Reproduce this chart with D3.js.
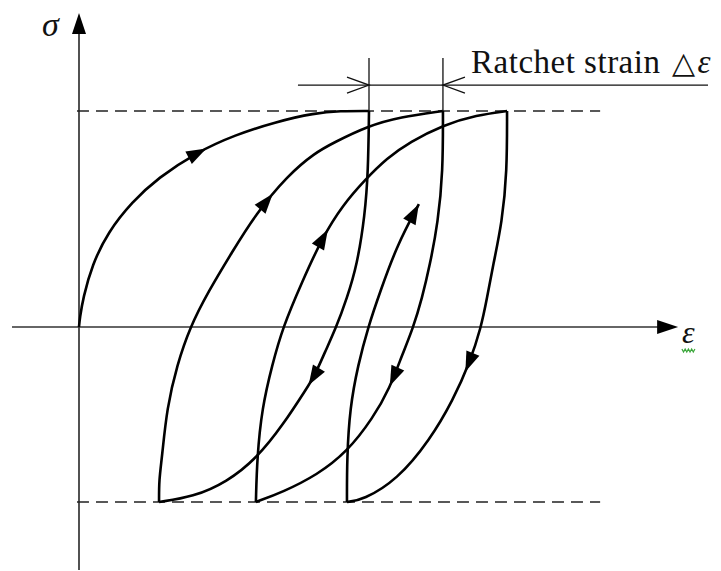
<!DOCTYPE html>
<html>
<head>
<meta charset="utf-8">
<script src="https://cdn.jsdelivr.net/npm/d3@7/dist/d3.min.js"></script>
<style>
  html, body { margin: 0; padding: 0; background: #fff; }
  svg { display: block; }
</style>
</head>
<body>
<svg id="chart" width="721" height="571"></svg>
<script>
// Normalised strain (first peak = 1) and stress (peak = 1) along each branch.
const load0 = [[0,0],[0.003,0.042],[0.014,0.134],[0.045,0.287],[0.100,0.440],[0.183,0.579],
  [0.272,0.690],[0.407,0.810],[0.538,0.889],[0.676,0.949],[0.814,0.991],[0.900,1.000],[1.000,1.000]];
const unload1 = [[1.000,1.000],[0.997,0.718],[0.986,0.519],[0.959,0.287],[0.924,0.134],
  [0.886,-0.005],[0.848,-0.116],[0.814,-0.222],[0.786,-0.282],[0.703,-0.454],[0.614,-0.606],
  [0.510,-0.718],[0.393,-0.787],[0.276,-0.810]];
const reload1 = [[0.276,-0.810],[0.276,-0.708],[0.286,-0.606],[0.303,-0.375],[0.338,-0.176],
  [0.383,0.000],[0.445,0.162],[0.528,0.347],[0.607,0.519],[0.721,0.704],[0.814,0.806],
  [0.876,0.852],[0.997,0.931],[1.107,0.972],[1.255,1.000]];
const unload2 = [[1.255,1.000],[1.255,0.718],[1.238,0.486],[1.210,0.287],[1.183,0.134],
  [1.152,-0.005],[1.114,-0.130],[1.072,-0.282],[1.014,-0.421],[0.924,-0.579],[0.821,-0.685],
  [0.703,-0.764],[0.610,-0.810]];
const reload2 = [[0.610,-0.810],[0.614,-0.606],[0.631,-0.375],[0.666,-0.176],[0.703,0.000],
  [0.769,0.208],[0.838,0.412],[0.910,0.565],[0.986,0.681],[1.062,0.782],[1.141,0.856],
  [1.255,0.935],[1.372,0.981],[1.476,1.000]];
const unload3 = [[1.476,1.000],[1.476,0.718],[1.459,0.486],[1.428,0.287],[1.407,0.134],
  [1.386,-0.005],[1.348,-0.162],[1.290,-0.338],[1.210,-0.523],[1.097,-0.708],[0.979,-0.801],
  [0.924,-0.810]];
const reload3 = [[0.924,-0.810],[0.924,-0.606],[0.934,-0.375],[0.962,-0.176],[0.997,0.000],
  [1.038,0.162],[1.097,0.380],[1.172,0.569]];

// Direction-arrow tip on each branch (same units, same order as the branches).
const arrowTips = [[0.438,0.829],[0.803,-0.278],[0.662,0.625],[1.066,-0.269],
  [0.859,0.449],[1.334,-0.208],[1.172,0.569]];

// Stress limits of the controlled cycle.
const stressLimits = [1.0, -0.81];
// Strain of the two peaks bracketing one cycle of ratchet strain.
const ratchetPeaks = [1.000, 1.255];

const axisLabelX = "ε";
const axisLabelY = "σ";
const ratchetWords = "Ratchet strain";
const ratchetDelta = "△";
const ratchetSymbol = "ε";

const branches = [load0, unload1, reload1, unload2, reload2, unload3, reload3];

const svg = d3.select("#chart");
const x = d3.scaleLinear().domain([0, 1]).range([79, 369]);
const y = d3.scaleLinear().domain([0, 1]).range([327, 111]);

const ink = "#111";
const axisInk = "#333";
const serif = "'Liberation Serif', 'Times New Roman', serif";

// Axes with arrowheads
const xAxisStart = -0.231, xAxisEnd = 2.066;
const yAxisStart = -1.125, yAxisEnd = 1.454;

svg.append("line")
  .attr("x1", x(xAxisStart)).attr("x2", x(xAxisEnd) - 10)
  .attr("y1", y(0)).attr("y2", y(0))
  .attr("stroke", axisInk).attr("stroke-width", 1.7);
svg.append("line")
  .attr("x1", x(0)).attr("x2", x(0))
  .attr("y1", y(yAxisStart)).attr("y2", y(yAxisEnd) + 10)
  .attr("stroke", axisInk).attr("stroke-width", 1.7);

function tri(tipX, tipY, dx, dy, len, half) {
  const bx = tipX - dx * len, by = tipY - dy * len;
  const px = -dy, py = dx;
  return `M${tipX},${tipY}L${bx + px * half},${by + py * half}L${bx - px * half},${by - py * half}Z`;
}
svg.append("path").attr("d", tri(x(xAxisEnd), y(0), 1, 0, 21, 7)).attr("fill", "#000");
svg.append("path").attr("d", tri(x(0), y(yAxisEnd), 0, -1, 21, 7)).attr("fill", "#000");

// Stress-limit guide lines
const guideStart = -0.007, guideEnd = 1.797;
svg.selectAll("line.guide").data(stressLimits).join("line")
  .attr("class", "guide")
  .attr("x1", x(guideStart)).attr("x2", x(guideEnd))
  .attr("y1", d => y(d)).attr("y2", d => y(d))
  .attr("stroke", "#222").attr("stroke-width", 1.5)
  .attr("stroke-dasharray", "12,7");

// Hysteresis branches
const line = d3.line()
  .x(d => x(d[0])).y(d => y(d[1]))
  .curve(d3.curveBasis);

const paths = svg.selectAll("path.branch").data(branches).join("path")
  .attr("class", "branch")
  .attr("d", line)
  .attr("fill", "none")
  .attr("stroke", "#000")
  .attr("stroke-width", 2.6)
  .attr("stroke-linejoin", "round");

// Direction arrows placed at the nearest point of each branch
paths.each(function(d, i) {
  const p = this;
  const total = p.getTotalLength();
  const tx = x(arrowTips[i][0]), ty = y(arrowTips[i][1]);
  let best = 0, bestD = Infinity;
  for (let l = 0; l <= total; l += 0.5) {
    const pt = p.getPointAtLength(l);
    const dd = (pt.x - tx) ** 2 + (pt.y - ty) ** 2;
    if (dd < bestD) { bestD = dd; best = l; }
  }
  const a = p.getPointAtLength(Math.max(0, best - 6));
  const b = p.getPointAtLength(Math.min(total, best));
  let dx = b.x - a.x, dy = b.y - a.y;
  const n = Math.hypot(dx, dy) || 1;
  dx /= n; dy /= n;
  svg.append("path")
    .attr("d", tri(b.x, b.y, dx, dy, 20, 7))
    .attr("fill", "#000");
});

// Ratchet strain dimension
const dimTop = 1.245, dimLevel = 1.120;
const dimStart = 0.755, dimEnd = 2.169;
svg.selectAll("line.ext").data(ratchetPeaks).join("line")
  .attr("class", "ext")
  .attr("x1", d => x(d)).attr("x2", d => x(d))
  .attr("y1", y(dimTop)).attr("y2", y(stressLimits[0]))
  .attr("stroke", "#111").attr("stroke-width", 1.3);
svg.append("line")
  .attr("x1", x(dimStart)).attr("x2", x(dimEnd))
  .attr("y1", y(dimLevel)).attr("y2", y(dimLevel))
  .attr("stroke", "#111").attr("stroke-width", 1.3);
// open chevrons pointing at the two peaks
const chev = [[ratchetPeaks[0], -1], [ratchetPeaks[1], 1]];
svg.selectAll("path.chev").data(chev).join("path")
  .attr("class", "chev")
  .attr("d", d => {
    const cx = x(d[0]), cy = y(dimLevel);
    return `M${cx + d[1] * 22},${cy - 8}L${cx},${cy}L${cx + d[1] * 22},${cy + 8}`;
  })
  .attr("fill", "none").attr("stroke", "#111").attr("stroke-width", 1.3);

const label = svg.append("text")
  .attr("x", x(1.352)).attr("y", y(1.176))
  .attr("font-family", serif)
  .attr("font-size", 33).attr("fill", ink);
label.append("tspan").attr("letter-spacing", 0.5).text(ratchetWords);
label.append("tspan").attr("dx", 12).attr("font-size", 30).text(ratchetDelta);
label.append("tspan").attr("font-style", "italic").attr("dx", 2).text(ratchetSymbol);

// Axis titles
svg.append("text")
  .attr("x", x(-0.128)).attr("y", y(1.347))
  .attr("font-family", serif)
  .attr("font-style", "italic").attr("font-size", 34).attr("fill", ink)
  .text(axisLabelY);

const eps = svg.append("text")
  .attr("x", x(2.079)).attr("y", y(-0.074))
  .attr("font-family", serif)
  .attr("font-style", "italic").attr("font-size", 32).attr("fill", ink)
  .text(axisLabelX);

// wavy underline beneath the strain symbol
const bb = eps.node().getBBox();
const wave = [];
for (let k = 0; k <= 8; k++) wave.push([bb.x + k * bb.width / 8, y(-0.074) + 7 + (k % 2 ? 2 : -1)]);
svg.append("path")
  .attr("d", d3.line()(wave))
  .attr("fill", "none").attr("stroke", "#3aa63a").attr("stroke-width", 1.2);
</script>
</body>
</html>
